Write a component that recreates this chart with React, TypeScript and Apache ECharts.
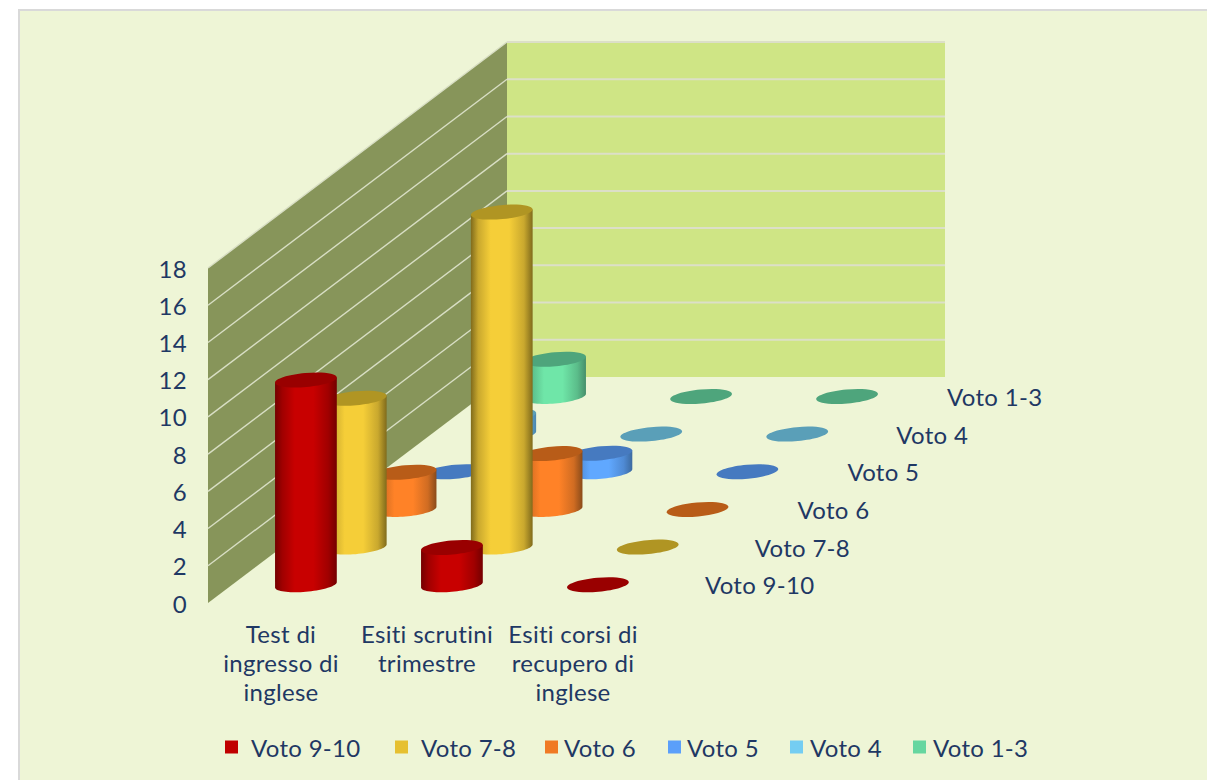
import React, { useEffect, useRef } from "react";
import * as echarts from "echarts";

const categories = ["Test di\ningresso di\ninglese", "Esiti scrutini\ntrimestre", "Esiti corsi di\nrecupero di\ninglese"];
const tickValues = [0, 2, 4, 6, 8, 10, 12, 14, 16, 18];
const voto910 = [11, 2, 0];
const voto78 = [8, 18, 0];
const voto6 = [2, 3, 0];
const voto5 = [0, 1, 0];
const voto4 = [1, 0, 0];
const voto13 = [2, 0, 0];
const seriesNames = ["Voto 9-10", "Voto 7-8", "Voto 6", "Voto 5", "Voto 4", "Voto 1-3"];
const seriesValues = [voto910, voto78, voto6, voto5, voto4, voto13];

const legendColors = ["#c00000", "#e6c030", "#f07a24", "#5b9ffa", "#74cdf2", "#66d6a0"];
const bodyBright = ["#c80000", "#f5ce38", "#ff8227", "#60a8ff", "#7ad2f8", "#6fe6a8"];
const bodyMid = ["#a00000", "#c9a82e", "#d06c22", "#4f8ad4", "#64aed0", "#5bbd8a"];
const bodyEdge = ["#740000", "#806b1c", "#8a4b1a", "#3c6aa0", "#4a86b0", "#468f6b"];
const topColors = ["#990000", "#b09523", "#b85c18", "#467ac0", "#5a9fb8", "#4ea57c"];

const FONT = "Lato";
const TEXT = "#1f3864";
const FS = 24;
const DEPTH_X = 299 / 6;
const DEPTH_Y = 226 / 6;
const FLOOR_NUDGE = 0.6;
const RX = 31;
const RY = 7;
const TILT = 0.09;
const legendLeft = [225, 395, 545, 668, 790, 913];
const legendPad = [8, 8, 1, 1, 2, 2];
const rowLabelShift = [107, 107, 100, 100, 99, 100];

function ellipsePoint(cx: number, cy: number, t: number) {
  const ex = RX * Math.cos(t);
  const ey = RY * Math.sin(t);
  return [cx + ex * Math.cos(TILT) + ey * Math.sin(TILT), cy - ex * Math.sin(TILT) + ey * Math.cos(TILT)];
}

function barRender(row: number) {
  return (_: any, api: any) => {
    const cat = api.value(0);
    const val = api.value(1);
    const base = api.coord([cat, 0]);
    const top = api.coord([cat, val]);
    const dx = DEPTH_X * (row + 0.5);
    const dy = DEPTH_Y * (row + 0.5) - FLOOR_NUDGE;
    const cx = base[0] + dx;
    const by = base[1] - dy;
    const ty = top[1] - dy;
    const children: any[] = [];
    if (val > 0) {
      const pts: number[][] = [];
      const lead = Math.atan2(RY * Math.sin(TILT), RX * Math.cos(TILT));
      pts.push(ellipsePoint(cx, ty, Math.PI + lead));
      for (let i = 0; i <= 36; i++) {
        const t = Math.PI + lead - (i / 36) * Math.PI;
        pts.push(ellipsePoint(cx, by, t));
      }
      pts.push(ellipsePoint(cx, ty, lead));
      children.push({
        type: "polygon",
        shape: { points: pts },
        style: {
          fill: new echarts.graphic.LinearGradient(0, 0, 1, 0, [
            { offset: 0, color: bodyEdge[row] },
            { offset: 0.12, color: bodyMid[row] },
            { offset: 0.32, color: bodyBright[row] },
            { offset: 0.62, color: bodyBright[row] },
            { offset: 0.86, color: bodyMid[row] },
            { offset: 1, color: bodyEdge[row] },
          ]),
        },
      });
    }
    children.push({
      type: "ellipse",
      x: cx,
      y: ty,
      rotation: TILT,
      shape: { cx: 0, cy: 0, rx: RX, ry: RY },
      style: { fill: topColors[row] },
    });
    return { type: "group", children };
  };
}

function wallRender(params: any, api: any) {
  const { x, y, width, height } = params.coordSys;
  const sx = DEPTH_X * 6;
  const sy = DEPTH_Y * 6;
  const right = x + width + sx;
  const backLeft = x + sx;
  const children: any[] = [
    {
      type: "polygon",
      shape: { points: [[x, y], [backLeft, y - sy], [backLeft, y + height - sy], [x, y + height]] },
      style: { fill: "#87955a" },
    },
    {
      type: "rect",
      shape: { x: backLeft, y: y - sy, width: right - backLeft, height },
      style: { fill: "#cfe585" },
    },
  ];
  tickValues.forEach((t) => {
    if (t === 0) return;
    const py = api.coord([0, t])[1];
    children.push({
      type: "line",
      shape: { x1: x, y1: py, x2: backLeft, y2: py - sy },
      style: { stroke: "#d8dec4", lineWidth: 1.4 },
    });
    children.push({
      type: "line",
      shape: { x1: backLeft, y1: py - sy, x2: right, y2: py - sy },
      style: { stroke: "#dcdfc8", lineWidth: 2 },
    });
  });
  return { type: "group", children };
}

function rowLabelRender(_: any, api: any) {
  const row = api.value(0);
  const p = api.coord([categories.length - 1, 0]);
  return {
    type: "text",
    x: p[0] + DEPTH_X * (row + 0.5) + rowLabelShift[row],
    y: p[1] - DEPTH_Y * (row + 0.5) + FLOOR_NUDGE,
    style: {
      text: seriesNames[row],
      fontFamily: FONT,
      fontSize: FS,
      fill: TEXT,
      align: "left",
      verticalAlign: "middle",
    },
  };
}

export default function App() {
  const ref = useRef<HTMLDivElement>(null);
  useEffect(() => {
    const chart = echarts.init(ref.current!, null, { renderer: "svg" });
    const barSeries = seriesNames
      .map((name, row) => ({
        type: "custom",
        name,
        renderItem: barRender(row),
        itemStyle: { color: legendColors[row] },
        data: seriesValues[row].map((v, i) => [i, v]),
        encode: { x: 0, y: 1 },
        silent: true,
        z: 10 + (seriesNames.length - row),
      }))
      .reverse();
    chart.setOption({
      animation: false,
      graphic: [
        {
          type: "rect",
          z: -10,
          shape: { x: 19, y: 10, width: 1200, height: 780 },
          style: { fill: "#eef5d6", stroke: "#d9d9d9", lineWidth: 2 },
        },
      ],
      grid: { left: 208, top: 268, width: 438, height: 335 },
      xAxis: {
        type: "category",
        data: categories,
        axisLine: { show: false },
        axisTick: { show: false },
        axisLabel: { fontFamily: FONT, fontSize: FS, color: TEXT, lineHeight: 29, margin: 16, interval: 0 },
      },
      yAxis: {
        type: "value",
        min: 0,
        max: 18,
        interval: 2,
        axisLine: { show: false },
        axisTick: { show: false },
        splitLine: { show: false },
        axisLabel: { fontFamily: FONT, fontSize: FS, color: TEXT, margin: 21 },
      },
      legend: seriesNames.map((name, i) => ({
        data: [name],
        left: legendLeft[i],
        top: 735,
        icon: "rect",
        itemWidth: 13,
        itemHeight: 13,
        selectedMode: false,
        padding: 0,
        textStyle: { fontFamily: FONT, fontSize: FS, color: TEXT, padding: [0, 0, 0, legendPad[i]] },
      })),
      series: [
        { type: "custom", name: "walls", renderItem: wallRender, data: [[0, 0]], silent: true, z: 1, encode: { x: 0, y: 1 } },
        ...barSeries,
        {
          type: "custom",
          name: "rowLabels",
          renderItem: rowLabelRender,
          data: seriesNames.map((_, i) => [i]),
          silent: true,
          z: 30,
          encode: { x: -1, y: -1 },
        },
      ],
    });
    return () => chart.dispose();
  }, []);
  return (
    <div
      ref={ref}
      style={{
        position: "absolute",
        left: 0,
        top: 0,
        width: 1207,
        height: 780,
        fontVariantLigatures: "none",
        letterSpacing: "0.3px",
      }}
    />
  );
}
